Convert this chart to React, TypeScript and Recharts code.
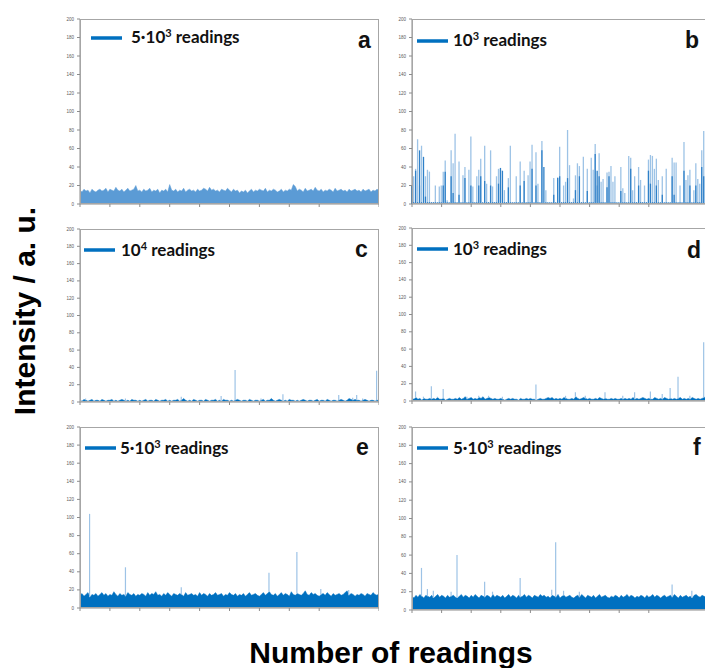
import React from "react"
import { Area, Bar, ComposedChart, XAxis, YAxis } from "recharts"

const FRAME = "#8c8c8c"
const DARK = "#0070C0"
const LIGHT = "#9DC3E6"
const A_FILL = "#5B9BD5"
const B_DARK = "#2F80C8"

const Y_TICKS = [0, 20, 40, 60, 80, 100, 120, 140, 160, 180, 200]
const X_TICKS = [0, 15, 30, 45, 60, 75, 90, 105, 120, 135, 150]

const LETTERS = ["a", "b", "c", "d", "e", "f"]
const LEGEND_BASE = ["5·10", "10", "10", "10", "5·10", "5·10"]
const LEGEND_EXP = ["3", "3", "4", "3", "3", "3"]

// a: 5·10³ readings, dense noise band
const aBand = [
  15, 13, 16, 14, 15, 12, 16, 14, 13, 15,
  16, 14, 15, 17, 13, 16, 15, 14, 18, 15,
  14, 16, 13, 15, 17, 14, 15, 16, 20, 14,
  15, 13, 16, 14, 15, 17, 13, 15, 14, 16,
  12, 15, 14, 16, 13, 21, 15, 14, 16, 13,
  15, 14, 17, 13, 15, 16, 14, 15, 13, 16,
  14, 15, 17, 16, 14, 18, 15, 16, 14, 15,
  13, 16, 15, 14, 17, 15, 13, 16, 14, 15,
  12, 14, 13, 15, 12, 14, 16, 13, 15, 14,
  16, 15, 14, 17, 13, 15, 14, 16, 15, 13,
  14, 16, 13, 15, 14, 16, 15, 21, 19, 14,
  16, 15, 13, 17, 14, 15, 16, 14, 18, 15,
  14, 16, 13, 15, 14, 16, 15, 13, 17, 14,
  15, 16, 14, 15, 13, 16, 14, 15, 16, 14,
  15, 13, 16, 14, 15, 16, 13, 15, 14, 16,
  15,
]

// b: 10³ readings, sparse spikes
const bLight = [
  15, 30, 38, 70, 20, 63, 0, 30, 37, 35,
  0, 0, 20, 0, 19, 20, 35, 47, 4, 0,
  58, 44, 76, 0, 46, 0, 31, 40, 0, 37,
  73, 19, 0, 30, 37, 49, 0, 63, 22, 0,
  58, 19, 0, 30, 38, 37, 0, 15, 0, 28,
  63, 0, 0, 30, 0, 46, 0, 36, 0, 31,
  46, 64, 0, 56, 22, 0, 68, 0, 15, 0,
  0, 0, 28, 0, 29, 62, 0, 20, 24, 80,
  42, 0, 6, 31, 44, 41, 0, 51, 0, 38,
  0, 50, 37, 65, 20, 55, 24, 27, 0, 34,
  35, 41, 24, 30, 0, 0, 40, 17, 12, 0,
  52, 50, 15, 30, 0, 40, 26, 0, 20, 0,
  48, 53, 52, 38, 49, 26, 0, 30, 0, 38,
  0, 0, 50, 45, 45, 0, 20, 0, 67, 26,
  31, 37, 0, 15, 44, 27, 22, 58, 79, 30,
]
const bDark = [
  20, 2, 36, 2, 58, 2, 51, 8, 2, 2,
  2, 2, 2, 2, 2, 2, 20, 35, 2, 2,
  30, 12, 2, 2, 10, 2, 2, 28, 2, 2,
  20, 2, 2, 2, 20, 30, 2, 25, 2, 2,
  20, 2, 2, 2, 22, 39, 36, 2, 2, 18,
  2, 2, 2, 2, 2, 20, 2, 25, 2, 2,
  2, 38, 2, 20, 2, 2, 58, 40, 2, 2,
  2, 2, 10, 2, 28, 30, 2, 2, 2, 28,
  2, 2, 2, 15, 2, 30, 2, 2, 2, 14,
  2, 2, 2, 54, 36, 30, 2, 2, 2, 18,
  30, 2, 2, 2, 2, 2, 14, 2, 2, 2,
  2, 38, 2, 2, 2, 20, 2, 2, 2, 2,
  36, 22, 2, 2, 20, 2, 2, 10, 2, 2,
  2, 2, 30, 10, 2, 2, 2, 2, 36, 2,
  2, 20, 2, 2, 20, 2, 2, 40, 30, 2,
]

// c: 10⁴ readings
const cBand = [
  2, 1, 3, 2, 1, 2, 3, 1, 2, 2,
  1, 3, 2, 1, 2, 2, 3, 1, 2, 1,
  2, 3, 2, 1, 2, 1, 3, 2, 2, 1,
  2, 1, 2, 3, 1, 2, 2, 1, 3, 2,
  1, 2, 2, 3, 1, 2, 1, 2, 2, 3,
  1, 2, 4, 2, 1, 2, 1, 3, 2, 1,
  2, 2, 1, 3, 2, 1, 2, 2, 3, 1,
  2, 1, 3, 2, 2, 1, 2, 1, 2, 3,
  2, 1, 2, 2, 1, 3, 2, 1, 2, 2,
  1, 2, 3, 1, 2, 2, 4, 2, 1, 2,
  3, 2, 1, 2, 1, 3, 2, 2, 1, 2,
  1, 2, 3, 2, 1, 2, 2, 1, 2, 3,
  1, 2, 2, 1, 3, 2, 1, 2, 2, 1,
  2, 3, 2, 1, 2, 4, 3, 2, 3, 2,
  2, 1, 2, 3, 2, 1, 2, 2, 1, 2,
  2,
]
const cPeakAt = [3, 23, 51, 71, 78, 91, 102, 130, 137, 139, 142, 149]
const cPeakVal = [4, 4, 6, 7, 37, 4, 9, 8, 5, 8, 4, 36]

// d: 10³ readings
const dBand = [
  3, 2, 4, 2, 3, 1, 3, 2, 2, 3,
  2, 3, 2, 4, 2, 2, 3, 1, 2, 3,
  2, 2, 3, 2, 4, 2, 3, 5, 2, 3,
  4, 2, 3, 2, 4, 3, 5, 2, 3, 4,
  3, 2, 3, 2, 2, 3, 2, 1, 2, 3,
  2, 3, 2, 2, 1, 3, 2, 2, 3, 2,
  3, 2, 2, 1, 2, 3, 2, 2, 3, 4,
  3, 4, 2, 3, 2, 3, 2, 4, 3, 2,
  2, 3, 2, 5, 3, 2, 3, 4, 3, 2,
  3, 2, 2, 3, 2, 4, 3, 2, 3, 2,
  2, 3, 2, 3, 2, 2, 3, 2, 3, 2,
  3, 2, 4, 2, 3, 2, 3, 4, 3, 2,
  3, 2, 2, 4, 3, 2, 3, 2, 4, 3,
  2, 3, 2, 3, 2, 3, 4, 2, 3, 2,
  3, 2, 4, 3, 2, 3, 2, 3, 4, 5,
  3,
]
const dPeakAt = [2, 6, 10, 13, 16, 28, 34, 39, 46, 63, 78, 83, 88, 98, 107, 113, 121, 127, 131, 135, 141, 148]
const dPeakVal = [11, 5, 17, 5, 14, 5, 6, 6, 5, 19, 6, 10, 6, 10, 6, 10, 11, 8, 15, 28, 6, 68]

// e: 5·10³ readings
const eBand = [
  14, 16, 13, 15, 17, 12, 15, 14, 16, 13,
  15, 17, 14, 16, 13, 15, 14, 18, 15, 13,
  16, 14, 15, 13, 17, 15, 14, 16, 13, 15,
  14, 16, 15, 13, 17, 14, 16, 15, 18, 14,
  15, 13, 16, 14, 17, 15, 13, 16, 15, 14,
  16, 15, 13, 17, 14, 15, 16, 14, 15, 13,
  17, 14, 16, 15, 13, 16, 14, 15, 17, 14,
  15, 16, 13, 15, 14, 17, 15, 14, 16, 13,
  15, 14, 16, 13, 15, 17, 14, 15, 16, 14,
  13, 15, 17, 14, 16, 18, 15, 14, 16, 13,
  15, 17, 14, 16, 15, 13, 18, 15, 14, 16,
  15, 14, 16, 19, 15, 14, 17, 15, 16, 14,
  13, 15, 16, 14, 17, 15, 13, 16, 14, 15,
  16, 14, 15, 17, 19, 14, 16, 15, 13, 15,
  14, 16, 15, 13, 16, 15, 14, 17, 15, 14,
  16,
]
const ePeakAt = [5, 23, 51, 95, 109, 121, 135]
const ePeakVal = [104, 45, 23, 39, 62, 21, 20]

// f: 5·10³ readings
const fBand = [
  15, 13, 16, 14, 17, 15, 13, 16, 15, 14,
  16, 13, 15, 17, 14, 16, 15, 13, 16, 14,
  15, 16, 14, 13, 15, 17, 14, 16, 15, 13,
  16, 14, 17, 15, 13, 16, 15, 14, 16, 15,
  13, 17, 14, 16, 15, 14, 16, 13, 15, 17,
  14, 16, 15, 13, 16, 14, 15, 17, 14, 16,
  15, 13, 16, 15, 14, 17, 15, 16, 14, 15,
  13, 16, 15, 14, 17, 13, 15, 16, 14, 15,
  16, 14, 13, 15, 16, 14, 17, 15, 13, 16,
  15, 14, 16, 13, 15, 17, 14, 15, 16, 14,
  13, 15, 14, 16, 15, 13, 16, 14, 15, 17,
  14, 16, 15, 13, 15, 14, 16, 15, 13, 16,
  14, 15, 17, 14, 16, 15, 13, 15, 16, 14,
  15, 16, 14, 17, 15, 13, 16, 14, 15, 16,
  14, 15, 13, 16, 17, 15, 14, 16, 15, 14,
  16,
]
const fPeakAt = [5, 8, 11, 20, 23, 37, 41, 55, 71, 73, 77, 85, 132, 142]
const fPeakVal = [46, 23, 21, 20, 60, 31, 20, 35, 22, 74, 21, 20, 28, 21]

// peaks are drawn as range bars starting at the band top
const bandRows = (band: number[], at: number[] = [], val: number[] = []) =>
  band.map((v, i) => {
    const k = at.indexOf(i)
    return { i, band: v, peak: k >= 0 && val[k] > v ? [v, val[k]] : null }
  })

const bRows = bLight.map((v, i) => ({ i, light: v || null, dark: bDark[i] }))

// plot rectangles (page coordinates) and legend/letter anchors
const PANELS = [
  { x: 80, y: 19, w: 299, h: 185, lx: 91, ly: 38, tx: 131, ty: 43, cx: 358, cy: 48 },
  { x: 412, y: 19, w: 296, h: 185, lx: 417, ly: 41, tx: 453, ty: 46, cx: 685, cy: 48 },
  { x: 80, y: 229, w: 299, h: 173, lx: 84, ly: 250, tx: 121, ty: 256, cx: 355, cy: 257 },
  { x: 412, y: 228, w: 296, h: 173, lx: 417, ly: 249, tx: 453, ty: 255, cx: 687, cy: 258 },
  { x: 80, y: 427, w: 299, h: 181, lx: 85, ly: 448, tx: 120, ty: 454, cx: 356, cy: 455 },
  { x: 412, y: 427, w: 296, h: 183, lx: 417, ly: 448, tx: 453, ty: 454, cx: 693, cy: 455 },
]

const PAD_TOP = 4
const AXIS_W = 24
const AXIS_H = 6

const noTick = () => <g />

function Frame({ p, data, children }: { p: (typeof PANELS)[number]; data: any[]; children: React.ReactNode }) {
  return (
    <>
      <div style={{ position: "absolute", left: p.x - AXIS_W, top: p.y - PAD_TOP }}>
        <ComposedChart
          width={AXIS_W + p.w}
          height={PAD_TOP + p.h + AXIS_H}
          data={data}
          margin={{ top: PAD_TOP, right: 0, bottom: 0, left: 0 }}
          barGap={-1.3}
        >
          <XAxis dataKey="i" type="number" domain={[0, 150]} ticks={X_TICKS} tick={noTick} tickSize={3} height={AXIS_H} stroke={FRAME} />
          <YAxis
            domain={[0, 200]}
            ticks={Y_TICKS}
            interval={0}
            width={AXIS_W}
            tickSize={3}
            tickMargin={3}
            tick={{ fontSize: 4.5, fill: "#595959" }}
            stroke={FRAME}
            allowDataOverflow
          />
          {children}
        </ComposedChart>
      </div>
      <div
        style={{
          position: "absolute",
          left: p.x,
          top: p.y,
          width: p.w,
          height: p.h,
          border: "1px solid #a6a6a6",
          boxSizing: "border-box",
          pointerEvents: "none",
        }}
      />
    </>
  )
}

function bandSeries(color: string) {
  return [
    <Area
      key="band"
      dataKey="band"
      type="linear"
      stroke={color}
      strokeWidth={0.5}
      fill={color}
      fillOpacity={1}
      dot={false}
      activeDot={false}
      isAnimationActive={false}
    />,
    <Bar key="peak" dataKey="peak" fill={LIGHT} barSize={1.2} isAnimationActive={false} />,
  ]
}

export default function App() {
  return (
    <div
      style={{
        position: "absolute",
        left: 0,
        top: 0,
        width: 705,
        height: 668,
        overflow: "hidden",
        background: "#fff",
        fontFamily: "'Liberation Sans', Arial, sans-serif",
      }}
    >
      <Frame p={PANELS[0]} data={bandRows(aBand)}>
        {bandSeries(A_FILL)}
      </Frame>
      <Frame p={PANELS[1]} data={bRows}>
        <Bar dataKey="light" fill={LIGHT} barSize={1.3} isAnimationActive={false} />
        <Bar dataKey="dark" fill={B_DARK} barSize={1.3} isAnimationActive={false} />
      </Frame>
      <Frame p={PANELS[2]} data={bandRows(cBand, cPeakAt, cPeakVal)}>
        {bandSeries(DARK)}
      </Frame>
      <Frame p={PANELS[3]} data={bandRows(dBand, dPeakAt, dPeakVal)}>
        {bandSeries(DARK)}
      </Frame>
      <Frame p={PANELS[4]} data={bandRows(eBand, ePeakAt, ePeakVal)}>
        {bandSeries(DARK)}
      </Frame>
      <Frame p={PANELS[5]} data={bandRows(fBand, fPeakAt, fPeakVal)}>
        {bandSeries(DARK)}
      </Frame>

      <svg width={705} height={668} style={{ position: "absolute", left: 0, top: 0, pointerEvents: "none" }}>
        {PANELS.map((p, k) => (
          <g key={k}>
            <rect x={p.lx} y={p.ly - 1.75} width={31} height={3.5} fill={DARK} />
            <text x={p.tx} y={p.ty} fontFamily="Lato, sans-serif" fontWeight={700} fontSize={17} fill="#111">
              {LEGEND_BASE[k]}
              <tspan dy={-6} fontSize={11}>
                {LEGEND_EXP[k]}
              </tspan>
              <tspan dy={6}> readings</tspan>
            </text>
            <text x={p.cx} y={p.cy} fontFamily="'Liberation Sans', Arial" fontWeight={700} fontSize={23} fill="#111">
              {LETTERS[k]}
            </text>
          </g>
        ))}
        <text
          transform="translate(35 311) rotate(-90)"
          textAnchor="middle"
          fontFamily="'Liberation Sans', Arial"
          fontWeight={700}
          fontSize={30}
          fill="#000"
        >
          Intensity / a. u.
        </text>
        <text x={391} y={663} textAnchor="middle" fontFamily="'Liberation Sans', Arial" fontWeight={700} fontSize={30} fill="#000">
          Number of readings
        </text>
      </svg>
    </div>
  )
}
